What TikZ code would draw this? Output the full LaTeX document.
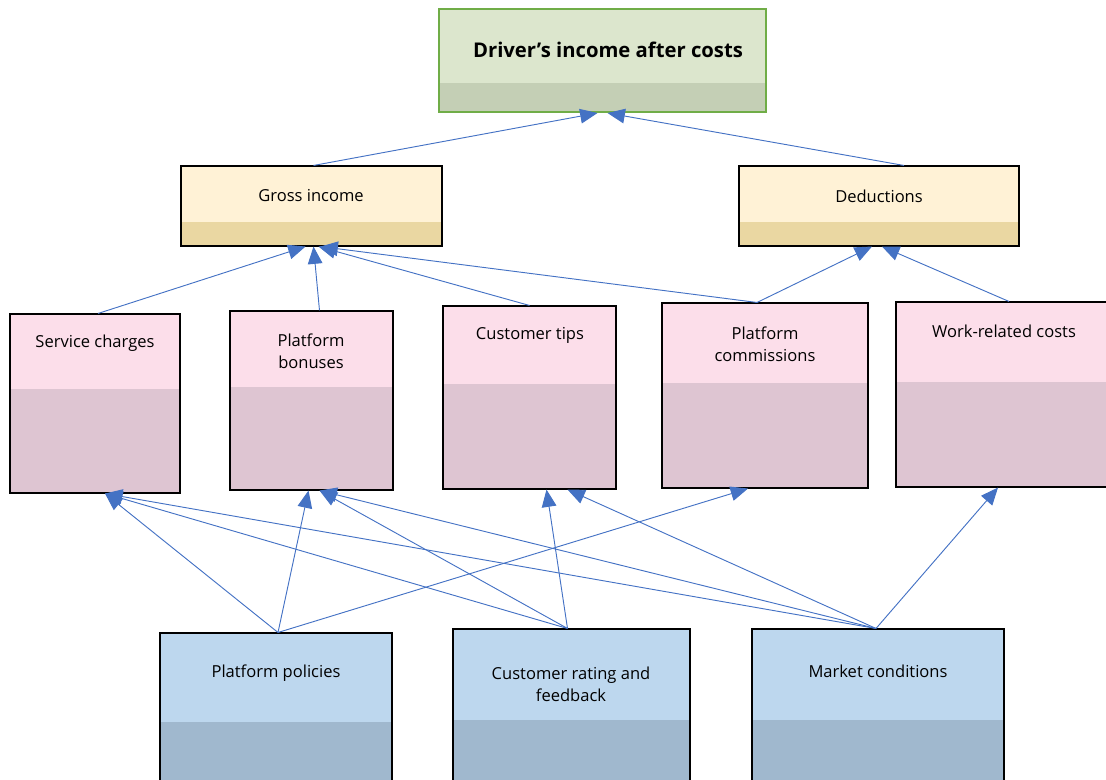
\documentclass[tikz,border=0pt]{standalone}
\usepackage{fontspec}
\setmainfont{Open Sans}
\usetikzlibrary{arrows.meta, calc, fit}

\definecolor{titlegreen}{RGB}{112,173,71}
\definecolor{titletop}{RGB}{220,230,205}
\definecolor{titlebot}{RGB}{196,207,181}
\definecolor{sumtop}{RGB}{255,242,214}
\definecolor{sumbot}{RGB}{234,215,162}
\definecolor{parttop}{RGB}{252,222,234}
\definecolor{partbot}{RGB}{222,197,210}
\definecolor{causetop}{RGB}{189,215,238}
\definecolor{causebot}{RGB}{160,184,206}
\definecolor{linkblue}{RGB}{68,114,196}

\begin{document}
\begin{tikzpicture}[x=0.75pt, y=-0.75pt,
    box/.style={draw=black, line width=0.8pt, inner sep=0pt},
    banded/.style n args={3}{fill=#1, path picture={
        \fill[#2] ($(path picture bounding box.north west)!#3!(path picture bounding box.south west)$)
            rectangle (path picture bounding box.south east);}},
    boxtext/.style={font=\fontsize{12.4}{16.5}\selectfont, align=center, inner sep=0pt},
    link/.style={draw=linkblue, line width=0.7pt, -{Triangle[length=13pt, width=11pt]}}]
    \useasboundingbox (0,0) rectangle (1106,779);
    \clip (0,0) rectangle (1106,779);

    % Top result
    \node[box, draw=titlegreen, line width=1.5pt, banded={titletop}{titlebot}{0.72}, fit={(439,9) (766,112)}] (drv) {};
    \node[boxtext, font=\bfseries\fontsize{15.2}{18}\selectfont] (drvtext) at (608,50) {Driver’s income after costs};

    % Second level
    \node[box, banded={sumtop}{sumbot}{0.7}, fit={(181,166) (442,246)}] (gi) {};
    \node[boxtext] (gitext) at (311,196) {Gross income};
    \node[box, banded={sumtop}{sumbot}{0.7}, fit={(739,166) (1019,246)}] (ded) {};
    \node[boxtext] (dedtext) at (879,196) {Deductions};

    % Components
    \node[box, banded={parttop}{partbot}{0.42}, fit={(10,314) (180,493)}] (sc) {};
    \node[boxtext] (sctext) at (95,343) {Service charges};
    \node[box, banded={parttop}{partbot}{0.425}, fit={(230,311) (393,490)}] (pb) {};
    \node[boxtext] (pbtext) at (311,351) {Platform\\bonuses};
    \node[box, banded={parttop}{partbot}{0.425}, fit={(443,306) (616,489)}] (ct) {};
    \node[boxtext] (cttext) at (530,335) {Customer tips};
    \node[box, banded={parttop}{partbot}{0.43}, fit={(662,303) (868,488)}] (pc) {};
    \node[boxtext] (pctext) at (765,344) {Platform\\commissions};
    \node[box, banded={parttop}{partbot}{0.43}, fit={(896,302) (1110,487)}] (wr) {};
    \node[boxtext] (wrtext) at (1004,331) {Work-related costs};

    % Drivers at the bottom
    \node[box, banded={causetop}{causebot}{0.42}, fit={(160,633) (392,845)}] (pp) {};
    \node[boxtext] (pptext) at (276,673) {Platform policies};
    \node[box, banded={causetop}{causebot}{0.42}, fit={(453,629) (690,845)}] (cr) {};
    \node[boxtext] (crtext) at (571,684) {Customer rating and\\feedback};
    \node[box, banded={causetop}{causebot}{0.42}, fit={(752,629) (1004,845)}] (mc) {};
    \node[boxtext] (mctext) at (878,671) {Market conditions};

    % Links
    \foreach \src/\sdx/\dst/\ddx in {gi/2/drv/-5, ded/25/drv/5,
        sc/3/gi/-6, pb/8/gi/2, ct/0/gi/7, pc/-8/gi/9, pc/-8/ded/-7, wr/6/ded/3,
        pp/2/sc/10, pp/2/pb/-3, pp/2/pc/-17,
        cr/-4/sc/10, cr/-4/pb/8, cr/-4/ct/17,
        mc/-2/sc/10, mc/-2/pb/8, mc/-2/ct/38, mc/-2/wr/-5}
        \draw[link] ($(\src.north)+(\sdx,0)$) -- ($(\dst.south)+(\ddx,0)$);
\end{tikzpicture}
\end{document}
